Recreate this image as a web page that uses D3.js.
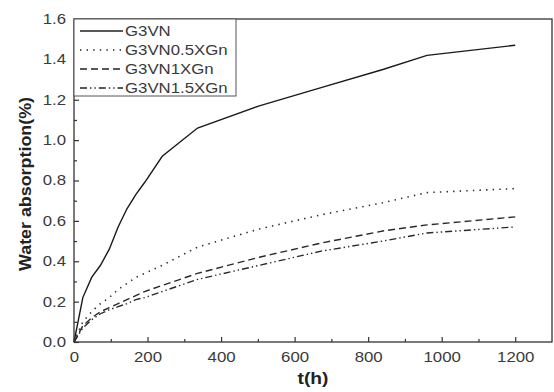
<!DOCTYPE html>
<html>
<head>
<meta charset="utf-8">
<script src="https://cdn.jsdelivr.net/npm/d3@7"></script>
<style>
  html, body { margin: 0; padding: 0; background: #fff; }
  svg { display: block; }
</style>
</head>
<body>
<div id="chart"></div>
<script>
const time = [0, 24, 48, 72, 96, 120, 144, 168, 192, 240, 336, 504, 672, 840, 960, 1200];
const seriesNames = ["G3VN", "G3VN0.5XGn", "G3VN1XGn", "G3VN1.5XGn"];
const g3vn      = [0, 0.22, 0.32, 0.38, 0.46, 0.57, 0.66, 0.73, 0.79, 0.92, 1.06, 1.17, 1.26, 1.35, 1.42, 1.47];
const g3vn05    = [0, 0.10, 0.15, 0.19, 0.22, 0.26, 0.29, 0.32, 0.34, 0.38, 0.47, 0.56, 0.63, 0.69, 0.74, 0.76];
const g3vn1     = [0, 0.08, 0.12, 0.15, 0.17, 0.19, 0.21, 0.23, 0.25, 0.28, 0.34, 0.42, 0.49, 0.55, 0.58, 0.62];
const g3vn15    = [0, 0.07, 0.11, 0.14, 0.16, 0.175, 0.19, 0.21, 0.22, 0.25, 0.31, 0.38, 0.45, 0.50, 0.54, 0.57];
const xTicks = [0, 200, 400, 600, 800, 1000, 1200];
const xMinor = [100, 300, 500, 700, 900, 1100];
const yTicks = [0.0, 0.2, 0.4, 0.6, 0.8, 1.0, 1.2, 1.4, 1.6];
const yMinor = [0.1, 0.3, 0.5, 0.7, 0.9, 1.1, 1.3, 1.5];
const xTitle = "t(h)";
const yTitle = "Water absorption(%)";

const W = 554, H = 392;
const L = 74, R = 552, T = 19, B = 342;
const SX = 1.2;
const dashes = [null, "1.4,5.2", "7,4", "7,3,1.4,3,1.4,3"];
const values = [g3vn, g3vn05, g3vn1, g3vn15];

const svg = d3.select("#chart").append("svg").attr("width", W).attr("height", H)
  .style("font-family", "Arial, 'Liberation Sans', sans-serif");

const x = d3.scaleLinear().domain([0, 1300]).range([L, R]);
const y = d3.scaleLinear().domain([0, 1.6]).range([B, T]);

// lines
const line = d3.line().x(d => x(d[0])).y(d => y(d[1]));
values.forEach((vals, i) => {
  const pts = time.map((t, k) => [t, vals[k]]);
  svg.append("path").datum(pts)
    .attr("d", line)
    .attr("fill", "none")
    .attr("stroke", i === 0 ? "#1a1a1a" : "#2a2a2a")
    .attr("stroke-width", i === 1 ? 1.6 : 1.4)
    .attr("stroke-dasharray", dashes[i]);
});

// frame
svg.append("rect").attr("x", L).attr("y", T).attr("width", R - L).attr("height", B - T)
  .attr("fill", "none").attr("stroke", "#333").attr("stroke-width", 1.3);

// axes
const xAxis = svg.append("g").attr("transform", `translate(0,${B})`)
  .call(d3.axisBottom(x).tickValues(xTicks).tickSize(-5).tickPadding(10).tickFormat(d3.format("d")));
svg.append("g").attr("transform", `translate(0,${B})`)
  .call(d3.axisBottom(x).tickValues(xMinor).tickSize(-3).tickFormat(""));
const yAxis = svg.append("g").attr("transform", `translate(${L},0)`)
  .call(d3.axisLeft(y).tickValues(yTicks).tickSize(-5).tickPadding(8).tickFormat(d3.format(".1f")));
svg.append("g").attr("transform", `translate(${L},0)`)
  .call(d3.axisLeft(y).tickValues(yMinor).tickSize(-3).tickFormat(""));

svg.selectAll(".domain").remove();
svg.selectAll(".tick line").attr("stroke", "#333").attr("stroke-width", 1.2);
svg.selectAll(".tick text").attr("fill", "#3a3a3a").style("font-size", "14px");
xAxis.selectAll(".tick text").attr("transform", `scale(${SX},1)`);
yAxis.selectAll(".tick text").attr("x", -8 / SX).attr("transform", `scale(${SX},1)`);

// axis titles
svg.append("text").attr("transform", `translate(${(L + R) / 2},384) scale(${SX},1)`)
  .attr("text-anchor", "middle").style("font-size", "16px").style("font-weight", "bold")
  .attr("fill", "#222").text(xTitle);
svg.append("text").attr("transform", `translate(31,184) rotate(-90)`)
  .attr("text-anchor", "middle").style("font-size", "16px").style("font-weight", "bold")
  .attr("textLength", 174).attr("lengthAdjust", "spacingAndGlyphs")
  .attr("fill", "#222").text(yTitle);

// legend
const lg = svg.append("g");
lg.append("rect").attr("x", 74).attr("y", 19).attr("width", 162).attr("height", 77)
  .attr("fill", "#fff").attr("stroke", "#555").attr("stroke-width", 1);
seriesNames.forEach((name, i) => {
  const yy = 31 + i * 19;
  lg.append("line").attr("x1", 80).attr("x2", 123).attr("y1", yy).attr("y2", yy)
    .attr("stroke", "#222").attr("stroke-width", i === 1 ? 1.6 : 1.4)
    .attr("stroke-dasharray", dashes[i]);
  lg.append("text").attr("transform", `translate(125,${yy + 5}) scale(${SX},1)`)
    .style("font-size", "14px").attr("fill", "#3a3a3a").text(name);
});
</script>
</body>
</html>
